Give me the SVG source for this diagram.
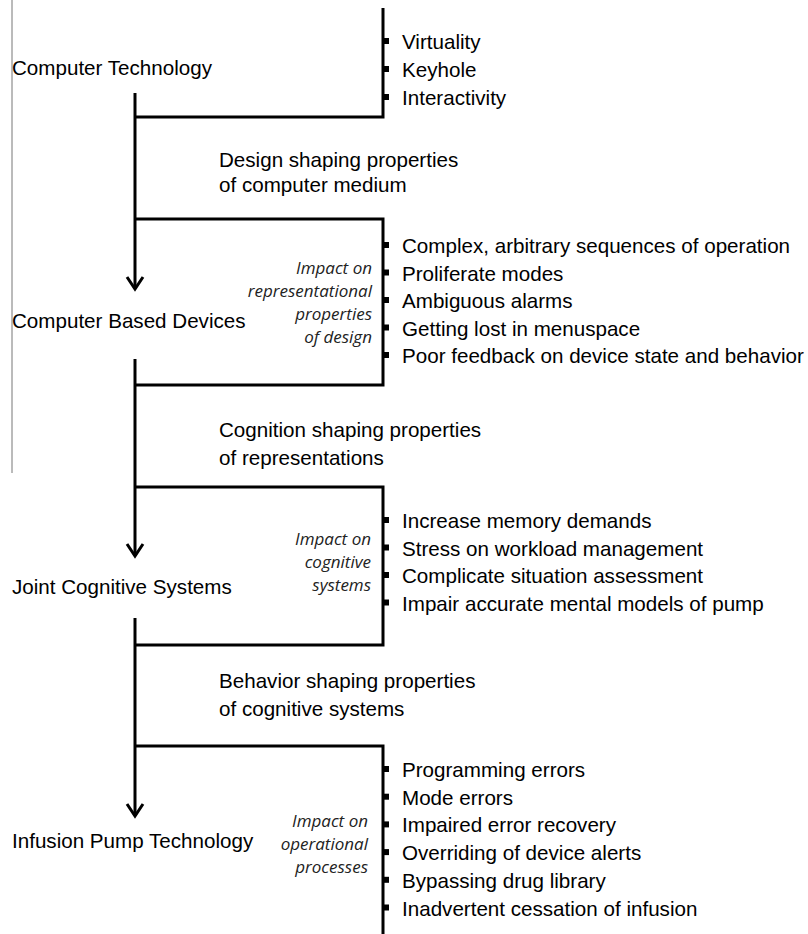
<svg xmlns="http://www.w3.org/2000/svg" width="808" height="934" viewBox="0 0 808 934">
<defs>
<style>
.lbl{font-family:"Liberation Sans",Arial,sans-serif;font-size:20.6px;fill:#000}
.it{font-family:"Open Sans","Liberation Sans",sans-serif;font-style:italic;font-size:17px;fill:#222;text-anchor:end}
.ln{stroke:#000;stroke-width:3;fill:none}
.arr{stroke:#000;stroke-width:3;fill:none;marker-end:url(#chev)}
.bul{fill:#000}
</style>
<marker id="chev" markerUnits="userSpaceOnUse" viewBox="-15 -15 30 30" markerWidth="30" markerHeight="30" refX="0" refY="0" orient="auto" overflow="visible">
<path d="M-12,-8 L0,0 L-12,8" stroke="#000" stroke-width="3" fill="none"/>
</marker>
</defs>
<rect width="808" height="934" fill="#fff"/>
<line x1="12" y1="0" x2="12" y2="473" stroke="#777" stroke-width="1"/>

<g id="connectors">
<path class="arr" d="M135,93 V289"/>
<path class="ln" d="M383,8 V117 H135"/>
<path class="ln" d="M135,219 H383 V385 H135"/>
<path class="arr" d="M135,359 V556"/>
<path class="ln" d="M135,487 H383 V645 H135"/>
<path class="arr" d="M135,618 V816"/>
<path class="ln" d="M135,746 H383 V934"/>
</g>

<g id="computer-technology">
<text class="lbl" x="12" y="75">Computer Technology</text>
</g>
<g id="computer-technology-props">
<rect class="bul" x="383" y="38" width="6" height="6"/>
<rect class="bul" x="383" y="66" width="6" height="6"/>
<rect class="bul" x="383" y="94" width="6" height="6"/>
<text class="lbl" x="402" y="49">Virtuality</text>
<text class="lbl" x="402" y="77">Keyhole</text>
<text class="lbl" x="402" y="105">Interactivity</text>
</g>
<g id="design-shaping">
<text class="lbl" x="219" y="167">Design shaping properties</text>
<text class="lbl" x="219" y="192">of computer medium</text>
</g>

<g id="computer-based-devices">
<text class="lbl" x="12" y="328">Computer Based Devices</text>
</g>
<g id="impact-design">
<text class="it" x="372" y="274">Impact on</text>
<text class="it" x="372" y="297">representational</text>
<text class="it" x="372" y="320">properties</text>
<text class="it" x="372" y="343">of design</text>
</g>
<g id="device-props">
<rect class="bul" x="383" y="242" width="6" height="6"/>
<rect class="bul" x="383" y="269.5" width="6" height="6"/>
<rect class="bul" x="383" y="297" width="6" height="6"/>
<rect class="bul" x="383" y="324.5" width="6" height="6"/>
<rect class="bul" x="383" y="352" width="6" height="6"/>
<text class="lbl" x="402" y="253">Complex, arbitrary sequences of operation</text>
<text class="lbl" x="402" y="280.5">Proliferate modes</text>
<text class="lbl" x="402" y="308">Ambiguous alarms</text>
<text class="lbl" x="402" y="335.5">Getting lost in menuspace</text>
<text class="lbl" x="402" y="363">Poor feedback on device state and behavior</text>
</g>
<g id="cognition-shaping">
<text class="lbl" x="219" y="437">Cognition shaping properties</text>
<text class="lbl" x="219" y="465">of representations</text>
</g>

<g id="joint-cognitive-systems">
<text class="lbl" x="12" y="594">Joint Cognitive Systems</text>
</g>
<g id="impact-cognitive">
<text class="it" x="371" y="545">Impact on</text>
<text class="it" x="371" y="568">cognitive</text>
<text class="it" x="371" y="591">systems</text>
</g>
<g id="cognitive-props">
<rect class="bul" x="383" y="517" width="6" height="6"/>
<rect class="bul" x="383" y="544.5" width="6" height="6"/>
<rect class="bul" x="383" y="572" width="6" height="6"/>
<rect class="bul" x="383" y="599.5" width="6" height="6"/>
<text class="lbl" x="402" y="528">Increase memory demands</text>
<text class="lbl" x="402" y="555.5">Stress on workload management</text>
<text class="lbl" x="402" y="583">Complicate situation assessment</text>
<text class="lbl" x="402" y="610.5">Impair accurate mental models of pump</text>
</g>
<g id="behavior-shaping">
<text class="lbl" x="219" y="688">Behavior shaping properties</text>
<text class="lbl" x="219" y="716">of cognitive systems</text>
</g>

<g id="infusion-pump-technology">
<text class="lbl" x="12" y="848">Infusion Pump Technology</text>
</g>
<g id="impact-operational">
<text class="it" x="368" y="827">Impact on</text>
<text class="it" x="368" y="850">operational</text>
<text class="it" x="368" y="873">processes</text>
</g>
<g id="operational-props">
<rect class="bul" x="383" y="766" width="6" height="6"/>
<rect class="bul" x="383" y="793.7" width="6" height="6"/>
<rect class="bul" x="383" y="821.4" width="6" height="6"/>
<rect class="bul" x="383" y="849.1" width="6" height="6"/>
<rect class="bul" x="383" y="876.8" width="6" height="6"/>
<rect class="bul" x="383" y="904.5" width="6" height="6"/>
<text class="lbl" x="402" y="777">Programming errors</text>
<text class="lbl" x="402" y="804.7">Mode errors</text>
<text class="lbl" x="402" y="832.4">Impaired error recovery</text>
<text class="lbl" x="402" y="860.1">Overriding of device alerts</text>
<text class="lbl" x="402" y="887.8">Bypassing drug library</text>
<text class="lbl" x="402" y="915.5">Inadvertent cessation of infusion</text>
</g>
</svg>
